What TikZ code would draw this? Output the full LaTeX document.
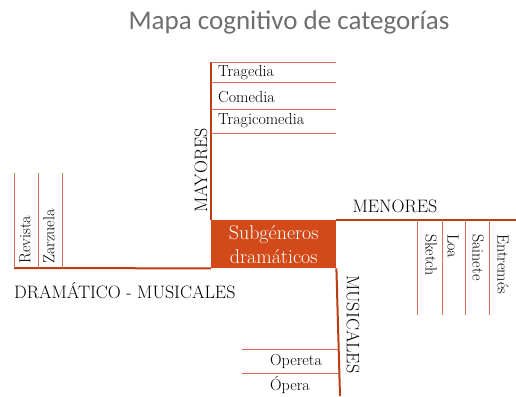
\documentclass[tikz,border=0pt]{standalone}
\usepackage{fontspec}
\newfontfamily\titlefont{Carlito}
\definecolor{orng}{RGB}{210,74,26}
\definecolor{darkorng}{RGB}{190,60,20}
\definecolor{thinc}{RGB}{215,110,90}
\definecolor{ttl}{RGB}{110,110,110}
\begin{document}
\begin{tikzpicture}[x=1pt,y=-1pt,
  thickline/.style={draw=darkorng, line width=2pt},
  thinline/.style={draw=thinc, line width=0.7pt},
  lbl/.style={font=\fontsize{18}{18}\selectfont, text=black, inner sep=0pt},
  item/.style={font=\fontsize{16}{16}\selectfont, text=black, inner sep=0pt}]
\useasboundingbox (0,0) rectangle (516,396);
\node[font=\titlefont\fontsize{27}{27}\selectfont, text=ttl] (title) at (289,22) {Mapa cognitivo de categorías};
\node[fill=orng, minimum width=125pt, minimum height=48pt, anchor=north west, inner sep=0pt, text=white, align=center, font=\fontsize{20}{24}\selectfont] (core) at (211,220) {Subgéneros\\dramáticos};
% MAYORES
\coordinate (maytop) at (211,62);
\draw[thickline] (core.north west) -- (maytop);
\foreach \i/\yy in {1/62,2/82,3/109,4/133} {
  \coordinate (ha\i) at (211,\yy);
  \coordinate (hb\i) at (336,\yy);
  \draw[thinline] (ha\i) -- (hb\i);
}
\node[item, anchor=west] (trag) at (218,73) {Tragedia};
\node[item, anchor=west] (com) at (218,97) {Comedia};
\node[item, anchor=west] (tragc) at (218,121) {Tragicomedia};
\node[lbl, rotate=90, anchor=west] (may) at (201,213) {MAYORES};
% MENORES
\coordinate (menend) at (516,220);
\draw[thickline] (core.north east) -- (menend);
\node[lbl] (men) at (395,206) {MENORES};
\foreach \i/\xx in {1/417,2/442,3/465,4/489} {
  \coordinate (va\i) at (\xx,220);
  \coordinate (vb\i) at (\xx,315);
  \draw[thinline] (va\i) -- (vb\i);
}
\node[item, rotate=-90, anchor=west] (sk) at (431,234) {Sketch};
\node[item, rotate=-90, anchor=west] (loa) at (453,234) {Loa};
\node[item, rotate=-90, anchor=west] (sai) at (478,234) {Sainete};
\node[item, rotate=-90, anchor=west] (ent) at (503,234) {Entremés};
% MUSICALES
\coordinate (musend) at (340,396);
\draw[thickline] (core.south east) -- (musend);
\node[lbl, rotate=-90, anchor=west] (mus) at (353,275) {MUSICALES};
\coordinate (oa1) at (242,349); \coordinate (ob1) at (338,349);
\coordinate (oa2) at (242,373); \coordinate (ob2) at (339,373);
\draw[thinline] (oa1) -- (ob1);
\draw[thinline] (oa2) -- (ob2);
\node[item, anchor=west] (operet) at (270,361) {Opereta};
\node[item, anchor=west] (oper) at (270,385) {Ópera};
% DRAMATICO - MUSICALES
\coordinate (dmend) at (14,268);
\draw[thickline] (core.south west) -- (dmend);
\node[lbl, anchor=west] (dm) at (14,291) {DRAMÁTICO - MUSICALES};
\foreach \i/\xx in {1/14,2/38,3/62} {
  \coordinate (da\i) at (\xx,268);
  \coordinate (db\i) at (\xx,173);
  \draw[thinline] (da\i) -- (db\i);
}
\node[item, rotate=90, anchor=west] (rev) at (25,264) {Revista};
\node[item, rotate=90, anchor=west] (zar) at (49,264) {Zarzuela};
\end{tikzpicture}
\end{document}
